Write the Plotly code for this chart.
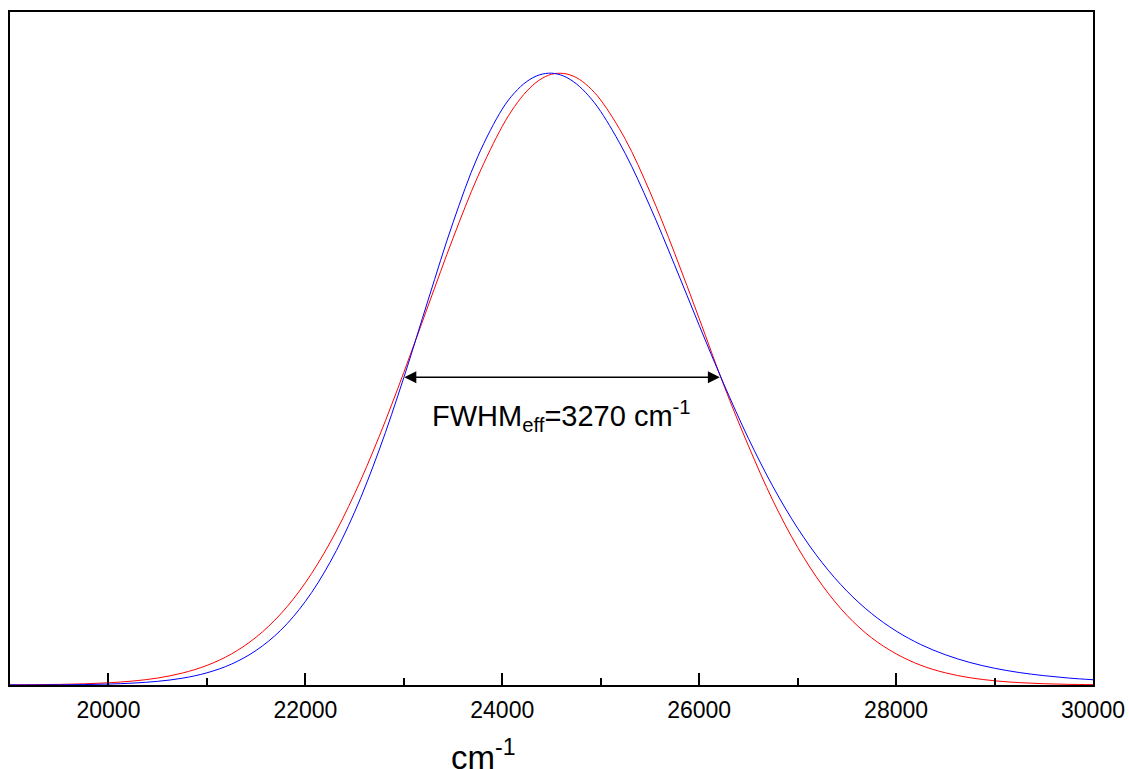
import plotly.graph_objects as go

wavenumber = [19000, 19250, 19500, 19750, 20000, 20250, 20500, 20750, 21000, 21250,
              21500, 21750, 22000, 22250, 22500, 22750, 23000, 23250, 23500, 23750,
              24000, 24125, 24250, 24375, 24500, 24625, 24750, 24875, 25000, 25250,
              25500, 25750, 26000, 26250, 26500, 26750, 27000, 27250, 27500, 27750,
              28000, 28250, 28500, 28750, 29000, 29250, 29500, 29750, 30000]
blue_band = [0.0001, 0.0001, 0.0003, 0.0007, 0.0015, 0.0031, 0.0060, 0.0111, 0.0199, 0.0342,
             0.0565, 0.0895, 0.1366, 0.2003, 0.2826, 0.3842, 0.5025, 0.6308, 0.7560, 0.8633,
             0.9414, 0.9680, 0.9865, 0.9971, 1.0000, 0.9952, 0.9829, 0.9634, 0.9374, 0.8684,
             0.7824, 0.6867, 0.5879, 0.4920, 0.4031, 0.3241, 0.2563, 0.1997, 0.1536, 0.1169,
             0.0883, 0.0662, 0.0495, 0.0368, 0.0274, 0.0204, 0.0153, 0.0114, 0.0086]
red_band = [0.0002, 0.0005, 0.0010, 0.0019, 0.0036, 0.0065, 0.0114, 0.0195, 0.0320, 0.0508,
            0.0782, 0.1162, 0.1671, 0.2324, 0.3125, 0.4063, 0.5109, 0.6212, 0.7304, 0.8305,
            0.9131, 0.9455, 0.9709, 0.9886, 0.9982, 0.9995, 0.9930, 0.9783, 0.9560, 0.8920,
            0.8060, 0.7060, 0.5990, 0.4900, 0.3910, 0.3010, 0.2250, 0.1630, 0.1140, 0.0773,
            0.0510, 0.0323, 0.0199, 0.0119, 0.0069, 0.0039, 0.0021, 0.0011, 0.0006]

tick_values = [20000, 22000, 24000, 26000, 28000, 30000]
tick_labels = ["20000", "22000", "24000", "26000", "28000", "30000"]

fwhm_left = 22990
fwhm_right = 26210
fwhm_level = 0.503
fwhm_text = "FWHM<sub>eff</sub>=3270 cm<sup>-1</sup>"
x_title = "cm<sup>-1</sup>"

FONT = "Liberation Sans, Arial, sans-serif"

fig = go.Figure()
fig.add_trace(go.Scatter(x=wavenumber, y=red_band, mode="lines",
                         line=dict(color="#ff0000", width=1, shape="spline", smoothing=1.0),
                         showlegend=False, hoverinfo="skip"))
fig.add_trace(go.Scatter(x=wavenumber, y=blue_band, mode="lines",
                         line=dict(color="#0000ff", width=1, shape="spline", smoothing=1.0),
                         showlegend=False, hoverinfo="skip"))

# double-headed arrow
fig.add_annotation(x=fwhm_right, y=fwhm_level, ax=fwhm_left, ay=fwhm_level,
                   xref="x", yref="y", axref="x", ayref="y", text="",
                   showarrow=True, arrowside="end+start", arrowhead=2,
                   arrowsize=1.6, arrowwidth=1.5, arrowcolor="black", standoff=0, startstandoff=0)

fig.add_annotation(x=23270, y=0.44, xref="x", yref="y", text=fwhm_text,
                   showarrow=False, xanchor="left", yanchor="middle",
                   font=dict(family=FONT, size=29, color="black"))

W, H = 1129, 769
ML, MR, MT, MB = 10, 36, 12, 84
plot_w = W - ML - MR
plot_h = H - MT - MB

fig.add_annotation(x=(449 - ML) / plot_w, y=-(732 - (H - MB)) / plot_h, xref="paper", yref="paper",
                   text=x_title, showarrow=False, xanchor="left", yanchor="top",
                   font=dict(family=FONT, size=33, color="black"))

fig.update_xaxes(range=[19000, 30000], tickvals=tick_values, ticktext=tick_labels,
                 ticks="inside", ticklen=12, tickwidth=2, tickcolor="black",
                 minor=dict(dtick=1000, tick0=19000, ticks="inside", ticklen=7, tickwidth=2, tickcolor="black"),
                 showline=True, linewidth=2, linecolor="black", mirror=True,
                 showgrid=False, zeroline=False, ticklabelstandoff=3,
                 tickfont=dict(family=FONT, size=23, color="black"))
fig.update_yaxes(range=[0, 1.1], showticklabels=False, ticks="",
                 showline=True, linewidth=2, linecolor="black", mirror=True,
                 showgrid=False, zeroline=False)

fig.update_layout(width=W, height=H, margin=dict(l=ML, r=MR, t=MT, b=MB, autoexpand=False),
                  plot_bgcolor="white", paper_bgcolor="white")

fig.write_html("out.html", config={"displayModeBar": False},
               post_script="document.body.style.margin='0';document.body.style.overflow='hidden';")
